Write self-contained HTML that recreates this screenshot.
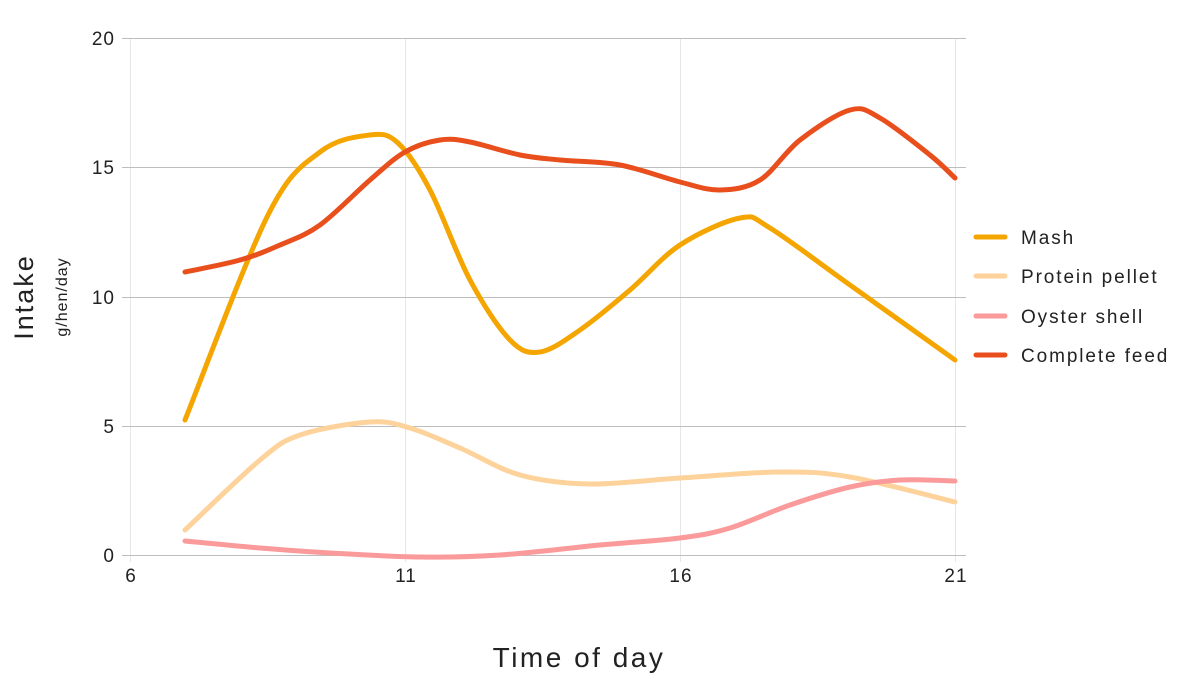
<!DOCTYPE html>
<html><head><meta charset="utf-8"><style>
html,body{margin:0;padding:0;background:#fff;}
svg{display:block;font-family:"Liberation Sans",sans-serif;}
</style></head><body>
<svg id="s" width="1200" height="700" viewBox="0 0 1200 700">
<g stroke="#e6e6e6" stroke-width="1">
<line x1="130.5" y1="38" x2="130.5" y2="562"/><line x1="405.5" y1="38" x2="405.5" y2="562"/>
<line x1="680.5" y1="38" x2="680.5" y2="562"/><line x1="955.5" y1="38" x2="955.5" y2="562"/>
</g>
<g stroke="#bdbdbd" stroke-width="1">
<line x1="122" y1="38.5" x2="966" y2="38.5"/><line x1="122" y1="167.5" x2="966" y2="167.5"/>
<line x1="122" y1="297.5" x2="966" y2="297.5"/><line x1="122" y1="426.5" x2="966" y2="426.5"/>
<line x1="122" y1="555.5" x2="966" y2="555.5"/>
</g>
<g font-size="19" fill="#222" text-anchor="end" letter-spacing="1">
<text x="115" y="45">20</text><text x="115" y="174">15</text><text x="115" y="304">10</text>
<text x="115" y="433">5</text><text x="115" y="562">0</text>
</g>
<g font-size="19" fill="#222" text-anchor="middle" letter-spacing="1">
<text x="131" y="582">6</text><text x="406" y="582">11</text><text x="681" y="582">16</text><text x="956" y="582">21</text>
</g>
<text x="579" y="667" font-size="28" fill="#222" text-anchor="middle" letter-spacing="2.5">Time of day</text>
<text transform="translate(33,297) rotate(-90)" font-size="27" fill="#222" text-anchor="middle" letter-spacing="2">Intake</text>
<text transform="translate(67,297) rotate(-90)" font-size="16" fill="#222" text-anchor="middle" letter-spacing="1">g/hen/day</text>
<g id="series" fill="none" stroke-width="5" stroke-linecap="round" stroke-linejoin="round"></g>
<g stroke-width="5" stroke-linecap="round">
<line x1="976" y1="237" x2="1005" y2="237" stroke="#f5a500"/>
<line x1="976" y1="276" x2="1005" y2="276" stroke="#fdd29b"/>
<line x1="976" y1="316" x2="1005" y2="316" stroke="#fa9a9a"/>
<line x1="976" y1="355" x2="1005" y2="355" stroke="#e84f1d"/>
</g>
<g font-size="19" fill="#222" letter-spacing="1.9">
<text x="1021" y="244">Mash</text><text x="1021" y="283">Protein pellet</text>
<text x="1021" y="323">Oyster shell</text><text x="1021" y="362">Complete feed</text>
</g>
</svg>
<script>
var S=[
["#fdd29b",[[185,530],[260,460],[300,435],[370,422],[410,428],[460,448],[520,475],[590,484],[680,478],[780,472],[850,477],[955,502]]],
["#fa9a9a",[[185,541],[260,548],[330,553],[420,557],[500,555],[600,545],[680,538],[730,528],[790,505],[850,487],[900,480],[955,481]]],
["#f5a500",[[185,420],[268,215],[320,152],[370,135],[398,143],[430,190],[470,280],[510,340],[540,352],[580,330],[630,290],[680,245],[740,218],[770,228],[850,285],[955,360]]],
["#e84f1d",[[185,272],[240,260],[280,245],[320,225],[370,180],[405,152],[440,140],[470,142],[520,155],[560,160],[620,165],[680,182],[720,190],[760,180],[800,140],[850,110],[880,118],[930,155],[955,178]]]
];
var g=document.getElementById("series");
S.forEach(function(s){var p=s[1],d="M"+p[0][0]+","+p[0][1];
for(var i=0;i<p.length-1;i++){var a=p[Math.max(0,i-1)],b=p[i],c=p[i+1],e=p[Math.min(p.length-1,i+2)];
d+=" C"+(b[0]+(c[0]-a[0])/6)+","+(b[1]+(c[1]-a[1])/6)+" "+(c[0]-(e[0]-b[0])/6)+","+(c[1]-(e[1]-b[1])/6)+" "+c[0]+","+c[1];}
var el=document.createElementNS("http://www.w3.org/2000/svg","path");el.setAttribute("d",d);el.setAttribute("stroke",s[0]);g.appendChild(el);});
</script>
</body></html>
